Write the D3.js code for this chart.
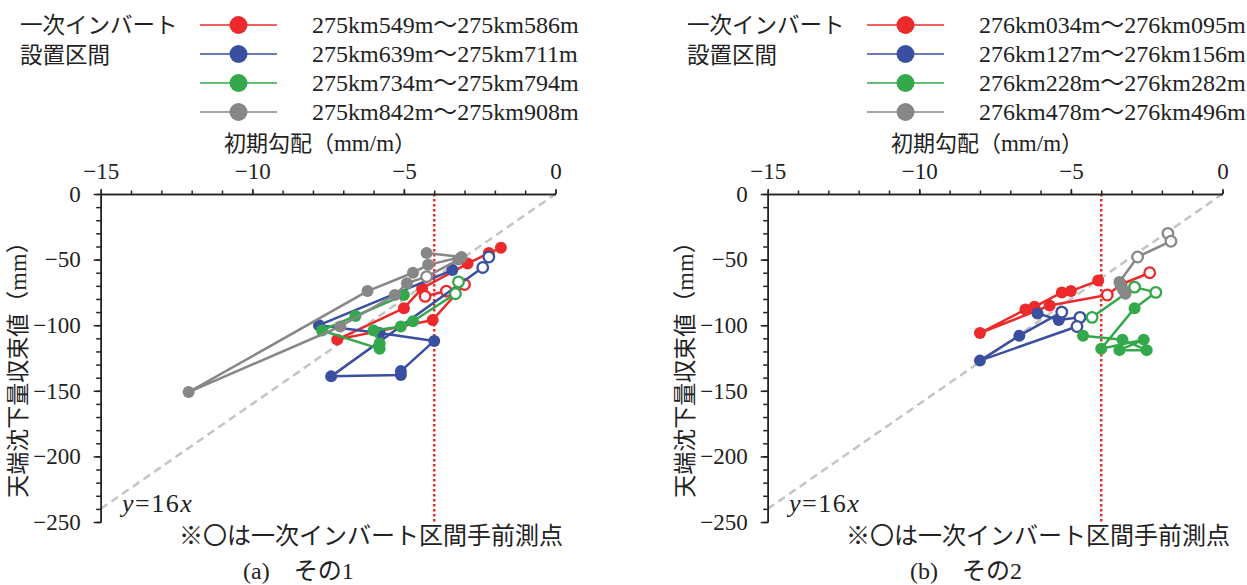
<!DOCTYPE html>
<html>
<head>
<meta charset="utf-8">
<script src="https://cdn.jsdelivr.net/npm/d3@7"></script>
<style>
  body { margin: 0; background: #fff; }
  text { fill: #222; }
</style>
</head>
<body>
<svg id="chart" width="1247" height="585"></svg>
<script>
// ---- data (x: 初期勾配 mm/m, y: 天端沈下量収束値 mm, h: 1 = 一次インバート区間手前測点) ----
const xTicks = [-15, -10, -5, 0];
const yTicks = [0, -50, -100, -150, -200, -250];
const invertLineX = -4;
const refSlope = 16;

const labelsA = ["275km549m～275km586m", "275km639m～275km711m", "275km734m～275km794m", "275km842m～275km908m"];
const labelsB = ["276km034m～276km095m", "276km127m～276km156m", "276km228m～276km282m", "276km478m～276km496m"];
const colours = ["#ec2a2c", "#3a4fa0", "#34a94b", "#878787"];

const aRed = [[-1.8,-41,0],[-2.2,-45,0],[-2.9,-53,0],[-4.4,-72,0],[-5.0,-87,0],[-7.2,-111,0],
              [-4.05,-96,0],[-3.0,-69,1],[-3.6,-74,1],[-4.3,-78,1]];
const aBlue = [[-2.2,-48,1],[-2.4,-56,1],[-7.4,-139,0],[-5.1,-138,0],[-5.1,-135,0],[-4.0,-112,0],
               [-5.8,-106,0],[-7.8,-100,0],[-3.4,-58,0]];
const aGreen = [[-5.0,-77,0],[-6.6,-93,0],[-7.7,-104,0],[-5.8,-118,0],[-5.8,-114,0],[-6.0,-104,0],
                [-5.1,-101,0],[-4.7,-97,0],[-3.3,-76,1],[-3.2,-67,1]];
const aGray = [[-4.25,-45,0],[-3.1,-48,0],[-4.2,-54,0],[-4.7,-60,0],[-6.2,-74,0],[-12.1,-151,0],
               [-7.1,-101,0],[-5.3,-77,0],[-4.9,-68,0],[-4.25,-63,1],[-3.2,-50,0]];

const bRed = [[-4.1,-66,0],[-5.0,-74,0],[-5.3,-75,0],[-6.2,-86,0],[-6.5,-88,0],[-8.0,-106,0],
              [-5.7,-85,0],[-3.8,-77,1],[-3.35,-69,1],[-2.4,-60,1]];
const bBlue = [[-6.1,-91,0],[-5.4,-96,0],[-4.7,-94,1],[-4.8,-101,1],[-8.0,-127,0],[-6.7,-108,0],
               [-5.3,-90,1]];
const bGreen = [[-4.3,-94,1],[-2.9,-71,1],[-2.2,-75,1],[-2.9,-87,0],[-4.0,-118,0],[-2.6,-111,0],
                [-3.4,-119,0],[-2.5,-119,0],[-3.3,-111,0],[-4.6,-108,0]];
const bGray = [[-1.8,-30,1],[-1.7,-36,1],[-2.8,-48,1],[-3.4,-67,0],[-3.35,-70,0],[-3.28,-73,0],
               [-3.2,-76,0]];

const serif = "'Liberation Serif', 'Times New Roman', serif";
const jp = "'Noto Sans CJK JP', sans-serif";
const svg = d3.select("#chart");

function drawPanel(off, series, labels, caption) {
    const g = svg.append("g").attr("transform", "translate(" + off + ",0)");
    const x = d3.scaleLinear().domain([-15, 0]).range([100.7, 555.5]);
    const y = d3.scaleLinear().domain([0, -250]).range([194, 522]);

    // y = 16x reference line
    g.append("line")
        .attr("x1", x(-15)).attr("y1", y(refSlope * -15))
        .attr("x2", x(0)).attr("y2", y(0))
        .attr("stroke", "#c4c4c4").attr("stroke-width", 2.5)
        .attr("stroke-dasharray", "8,5");

    // invert boundary
    g.append("line")
        .attr("x1", x(invertLineX)).attr("x2", x(invertLineX))
        .attr("y1", y(0)).attr("y2", y(-250))
        .attr("stroke", "#ee2a2a").attr("stroke-width", 2.5)
        .attr("stroke-dasharray", "2.5,2.5");

    // axes
    const minorX = d3.axisTop(x).tickValues(d3.range(-15, 1, 1)).tickSize(3.5).tickFormat("").tickSizeOuter(0);
    const majorX = d3.axisTop(x).tickValues(xTicks).tickSize(5).tickPadding(10).tickSizeOuter(0);
    const minorY = d3.axisLeft(y).tickValues(d3.range(0, -251, -10)).tickSize(4.5).tickFormat("").tickSizeOuter(0);
    const majorY = d3.axisLeft(y).tickValues(yTicks).tickSize(7).tickPadding(13).tickSizeOuter(0);

    [[minorX, "translate(0," + y(0) + ")"], [majorX, "translate(0," + y(0) + ")"],
     [minorY, "translate(" + x(-15) + ",0)"], [majorY, "translate(" + x(-15) + ",0)"]].forEach(function(a) {
        const ax = g.append("g").attr("transform", a[1]).call(a[0]);
        ax.selectAll("path, line").attr("stroke", "#222").attr("stroke-width", 1.5);
        ax.selectAll("text").attr("font-family", serif).attr("font-size", 23).attr("fill", "#222");
    });

    // series
    const line = d3.line().x(function(d) { return x(d[0]); }).y(function(d) { return y(d[1]); });
    series.forEach(function(s, i) {
        g.append("path").datum(s)
            .attr("fill", "none").attr("stroke", colours[i])
            .attr("stroke-width", 2.5).attr("stroke-linejoin", "round")
            .attr("d", line);
        g.selectAll(null).data(s).enter().append("circle")
            .attr("cx", function(d) { return x(d[0]); })
            .attr("cy", function(d) { return y(d[1]); })
            .attr("r", function(d) { return d[2] ? 5.3 : 6; })
            .attr("fill", function(d) { return d[2] ? "#fff" : colours[i]; })
            .attr("stroke", colours[i])
            .attr("stroke-width", function(d) { return d[2] ? 2.3 : 0; });
    });

    // legend
    g.append("text").attr("x", 20).attr("y", 25).attr("dy", "0.36em")
        .attr("font-family", jp).attr("font-size", 22.5).text("一次インバート");
    g.append("text").attr("x", 20).attr("y", 55).attr("dy", "0.36em")
        .attr("font-family", jp).attr("font-size", 22.5).text("設置区間");
    labels.forEach(function(lab, i) {
        const ly = 25 + i * 29;
        g.append("line").attr("x1", 200).attr("x2", 277).attr("y1", ly).attr("y2", ly)
            .attr("stroke", colours[i]).attr("stroke-width", 1.5);
        g.append("circle").attr("cx", 238.5).attr("cy", ly).attr("r", 9).attr("fill", colours[i]);
        g.append("text").attr("x", 312).attr("y", ly).attr("dy", "0.34em")
            .attr("font-family", serif + ", " + jp).attr("font-size", 24).text(lab);
    });

    // axis titles
    const xt = g.append("text").attr("x", 320).attr("y", 143).attr("dy", "0.36em")
        .attr("text-anchor", "middle").attr("font-family", jp).attr("font-size", 22);
    xt.append("tspan").text("初期勾配（");
    xt.append("tspan").attr("font-family", serif).attr("font-size", 23).text("mm/m");
    xt.append("tspan").text("）");

    const yt = g.append("text").attr("transform", "translate(18,364) rotate(-90)").attr("dy", "0.36em")
        .attr("text-anchor", "middle").attr("font-family", jp).attr("font-size", 23);
    yt.append("tspan").text("天端沈下量収束値（");
    yt.append("tspan").attr("font-family", serif).attr("font-size", 24).text("mm");
    yt.append("tspan").text("）");

    // annotations
    const eq = g.append("text").attr("x", 122).attr("y", 512)
        .attr("font-family", serif).attr("font-size", 26).attr("letter-spacing", 1.5);
    eq.append("tspan").attr("font-style", "italic").text("y");
    eq.append("tspan").text("=16");
    eq.append("tspan").attr("font-style", "italic").text("x");

    g.append("text").attr("x", 179).attr("y", 544)
        .attr("font-family", jp).attr("font-size", 24).text("※〇は一次インバート区間手前測点");

    const cap = g.append("text").attr("x", 243).attr("y", 579).attr("font-size", 24);
    cap.append("tspan").attr("font-family", serif).text(caption[0]);
    cap.append("tspan").attr("font-family", jp).text(caption[1]);
    cap.append("tspan").attr("font-family", serif).text(caption[2]);
}

drawPanel(0, [aRed, aBlue, aGreen, aGray], labelsA, ["(a)", "　その", "1"]);
drawPanel(667, [bRed, bBlue, bGreen, bGray], labelsB, ["(b)", "　その", "2"]);
</script>
</body>
</html>
